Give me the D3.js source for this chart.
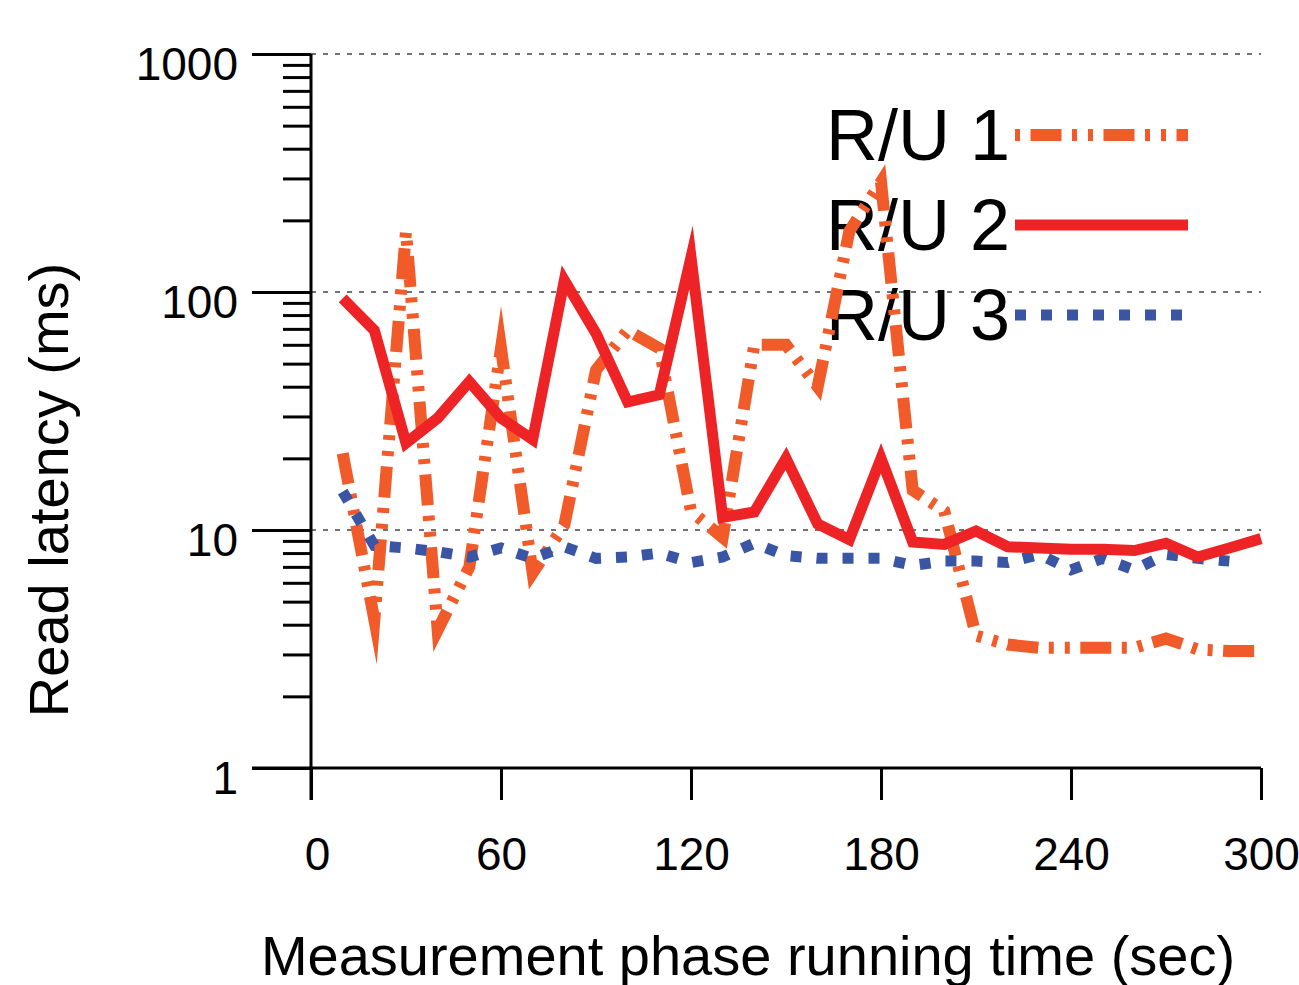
<!DOCTYPE html>
<meta charset="utf-8">
<style>
body { margin: 0; background: #fff; }
text { font-family: "Liberation Sans", Arial, sans-serif; fill: #000; }
.axis path.domain { display: none; }
.axis line { stroke: #000; stroke-width: 3px; }
.grid { stroke: #444; stroke-width: 1.3px; stroke-dasharray: 5,7; }
.line { fill: none; stroke-linejoin: miter; stroke-miterlimit: 10; }
</style>
<svg width="1299" height="985"></svg>
<script src="https://d3js.org/d3.v7.min.js"></script>
<script>

// sample times (sec)
var times = [10, 20, 30, 40, 50, 60, 70, 80, 90, 100, 110, 120, 130, 140, 150,
             160, 170, 180, 190, 200, 210, 220, 230, 240, 250, 260, 270, 280, 290, 300];

// read latency (ms) per run
var ru1 = [21, 4.2, 180, 3.8, 7, 58, 6.6, 10.5, 47, 69, 58, 12, 9.3, 60, 60,
           40, 180, 290, 14.7, 12, 3.6, 3.3, 3.2, 3.2, 3.2, 3.2, 3.5, 3.15, 3.1, 3.1];
var ru2 = [94, 69, 23.2, 29.5, 42, 29.5, 24, 112, 67, 34.5, 37, 140, 11.3, 11.9, 20,
           10.6, 9.1, 20, 8.9, 8.7, 9.9, 8.5, 8.4, 8.3, 8.3, 8.2, 8.8, 7.7, 8.4, 9.2];
var ru3 = [14.5, 8.6, 8.4, 8.1, 7.7, 8.4, 7.6, 8.5, 7.6, 7.7, 8.0, 7.3, 7.7, 8.8, 7.8,
           7.6, 7.6, 7.6, 7.1, 7.4, 7.4, 7.3, 7.9, 6.8, 7.6, 6.8, 7.9, 7.6, 7.4];

var seriesNames = ["R/U 1", "R/U 2", "R/U 3"];
var xTicks = [0, 60, 120, 180, 240, 300];
var yTicks = [1, 10, 100, 1000];
var yMinor = [2, 3, 4, 5, 6, 7, 8, 9, 20, 30, 40, 50, 60, 70, 80, 90, 200, 300, 400, 500, 600, 700, 800, 900];

var svg = d3.select("svg");

var x = d3.scaleLinear().domain([0, 300]).range([311, 1261]),
    y = d3.scaleLog().domain([1, 1000]).range([768, 54]);

var styles = [
  {color: "#F15A29", width: 12, dash: "31,10.5,5,11,5,10.5", legendOffset: 57.5},
  {color: "#EE2326", width: 11, dash: null, legendOffset: 0},
  {color: "#3B55A5", width: 11, dash: "11,15", legendOffset: 0}
];

// grid
svg.append("g").selectAll("line")
    .data(yTicks.slice(1))
  .enter().append("line")
    .attr("class", "grid")
    .attr("x1", x(0)).attr("x2", x(300))
    .attr("y1", function(d) { return y(d); })
    .attr("y2", function(d) { return y(d); });

// y axis
svg.append("g")
    .attr("class", "axis")
    .attr("transform", "translate(" + x(0) + ",0)")
    .call(d3.axisLeft(y).tickValues(yMinor).tickSize(28).tickFormat(""));

var yAxis = svg.append("g")
    .attr("class", "axis")
    .attr("transform", "translate(" + x(0) + ",0)")
    .call(d3.axisLeft(y).tickValues(yTicks).tickSize(59).tickPadding(14).tickFormat(d3.format("d")));
yAxis.selectAll("text").attr("dy", "0.55em").style("font-size", "46px");

// x axis
var xAxis = svg.append("g")
    .attr("class", "axis")
    .attr("transform", "translate(0," + y(1) + ")")
    .call(d3.axisBottom(x).tickValues(xTicks).tickSize(32).tickPadding(37));
xAxis.selectAll("text").style("font-size", "46px")
    .attr("dx", function(d) { return d == 0 ? 6 : 0; });

// axis lines
svg.append("line")
    .attr("x1", x(0)).attr("x2", x(0))
    .attr("y1", y(1000)).attr("y2", y(1) + 32)
    .attr("stroke", "#000").attr("stroke-width", 3);
svg.append("line")
    .attr("x1", x(0) - 59).attr("x2", x(300))
    .attr("y1", y(1)).attr("y2", y(1))
    .attr("stroke", "#000").attr("stroke-width", 3);

// titles
svg.append("text")
    .attr("x", 748).attr("y", 975)
    .attr("text-anchor", "middle")
    .style("font-size", "56px")
    .text("Measurement phase running time (sec)");

svg.append("text")
    .attr("transform", "translate(68,490) rotate(-90)")
    .attr("text-anchor", "middle")
    .style("font-size", "56px")
    .text("Read latency (ms)");

// legend
var legend = svg.append("g").selectAll("g")
    .data(seriesNames)
  .enter().append("g")
    .attr("transform", function(d, i) { return "translate(0," + (135 + i * 90) + ")"; });

legend.append("text")
    .attr("x", 826).attr("y", 25)
    .style("font-size", "72px")
    .text(function(d) { return d; });

legend.append("line")
    .attr("x1", 1015).attr("x2", function(d, i) { return i == 2 ? 1184 : 1188; })
    .attr("y1", 0).attr("y2", 0)
    .attr("stroke", function(d, i) { return styles[i].color; })
    .attr("stroke-width", function(d, i) { return styles[i].width; })
    .attr("stroke-dasharray", function(d, i) { return styles[i].dash; })
    .attr("stroke-dashoffset", function(d, i) { return styles[i].legendOffset; });

// lines
var line = d3.line()
    .x(function(d) { return x(d[0]); })
    .y(function(d) { return y(d[1]); });

var series = [ru1, ru2, ru3].map(function(vals) {
  return vals.map(function(v, i) { return [times[i], v]; });
});

[0, 2, 1].forEach(function(i) {
  svg.append("path")
      .datum(series[i])
      .attr("class", "line")
      .attr("d", line)
      .attr("stroke", styles[i].color)
      .attr("stroke-width", styles[i].width)
      .attr("stroke-dasharray", styles[i].dash);
});

</script>
